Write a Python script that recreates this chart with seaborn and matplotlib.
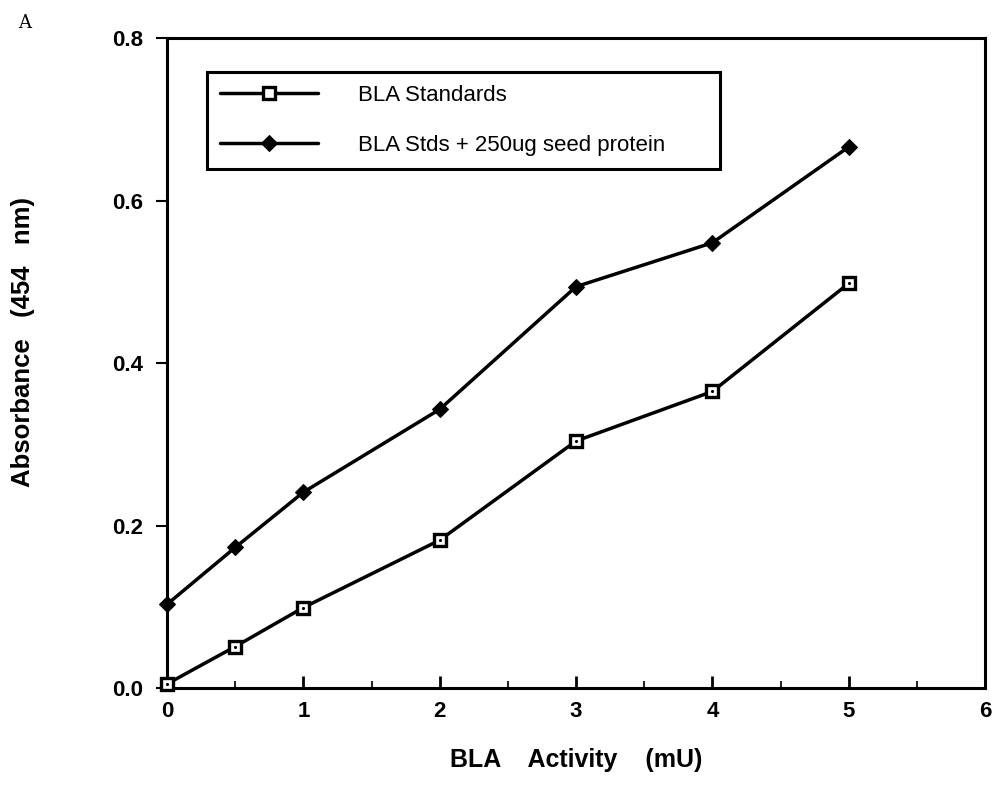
import matplotlib
matplotlib.use("Agg")
import matplotlib.pyplot as plt
import seaborn as sns
import pandas as pd
from matplotlib.ticker import MultipleLocator

activity = [0, 0.5, 1, 2, 3, 4, 5]
standards = [0.005, 0.051, 0.099, 0.182, 0.304, 0.365, 0.498]
seed = [0.103, 0.173, 0.241, 0.343, 0.494, 0.548, 0.666]
series_names = ["BLA Standards", "BLA Stds + 250ug seed protein"]

df = pd.DataFrame({
    "x": activity * 2,
    "y": standards + seed,
    "series": [series_names[0]] * len(activity) + [series_names[1]] * len(activity),
})

sns.set_theme(style="white")
plt.rcParams["font.family"] = ["Liberation Sans", "DejaVu Sans"]
plt.rcParams["text.color"] = "black"
plt.rcParams["axes.labelcolor"] = "black"

fig = plt.figure(figsize=(9.99, 7.93), dpi=100)
ax = fig.add_axes([0.1672, 0.1324, 0.8188, 0.8196])

sns.lineplot(data=df[df.series == series_names[0]], x="x", y="y", ax=ax,
             color="black", lw=2.5, marker="s", markersize=9,
             markerfacecolor="white", markeredgecolor="black", markeredgewidth=2.4,
             label=series_names[0], clip_on=False, zorder=5)
sns.lineplot(data=df[df.series == series_names[1]], x="x", y="y", ax=ax,
             color="black", lw=2.5, marker="D", markersize=8,
             markerfacecolor="black", markeredgecolor="black",
             label=series_names[1], clip_on=False, zorder=5)
# small dot centre in open squares
ax.plot(activity, standards, ls="none", marker=".", markersize=2.5, color="black",
        clip_on=False, zorder=6)

ax.set_xlim(0, 6)
ax.set_ylim(0, 0.8)
ax.xaxis.set_major_locator(MultipleLocator(1))
ax.xaxis.set_minor_locator(MultipleLocator(0.5))
ax.yaxis.set_major_locator(MultipleLocator(0.2))
ax.set_yticklabels([f"{v:.1f}" for v in ax.get_yticks()])
ax.tick_params(axis="x", which="major", direction="in", length=9, width=2, bottom=True)
ax.tick_params(axis="x", which="minor", direction="in", length=5, width=1.5, bottom=True)
ax.tick_params(axis="y", which="major", direction="out", length=8, width=1.5, left=True)
ax.tick_params(axis="both", labelsize=16, pad=9, colors="black")
for lab in ax.get_xticklabels() + ax.get_yticklabels():
    lab.set_fontweight("bold")
for s in ax.spines.values():
    s.set_visible(True)
    s.set_color("black")
    s.set_linewidth(2.2)

ax.set_xlabel("BLA    Activity    (mU)", fontsize=18, fontweight="bold", color="black")
ax.xaxis.set_label_coords(0.5, -0.093)
ax.set_ylabel("Absorbance   (454   nm)", fontsize=18.5, fontweight="bold", color="black")
ax.yaxis.set_label_coords(-0.161, 0.532)

leg = ax.legend(loc="upper left", bbox_to_anchor=(0.049, 0.797, 0.627, 0.151),
                mode="expand", frameon=True, framealpha=1,
                fancybox=False, edgecolor="black", fontsize=16, handlelength=4.4,
                handletextpad=1.8, borderpad=0.6, labelspacing=1.3, borderaxespad=0,
                labelcolor="black")
leg.get_frame().set_linewidth(2.2)

fig.text(0.018, 0.965, "A", fontsize=13, family="DejaVu Serif", color="black")

fig.savefig("out.png", dpi=100, facecolor="white")
